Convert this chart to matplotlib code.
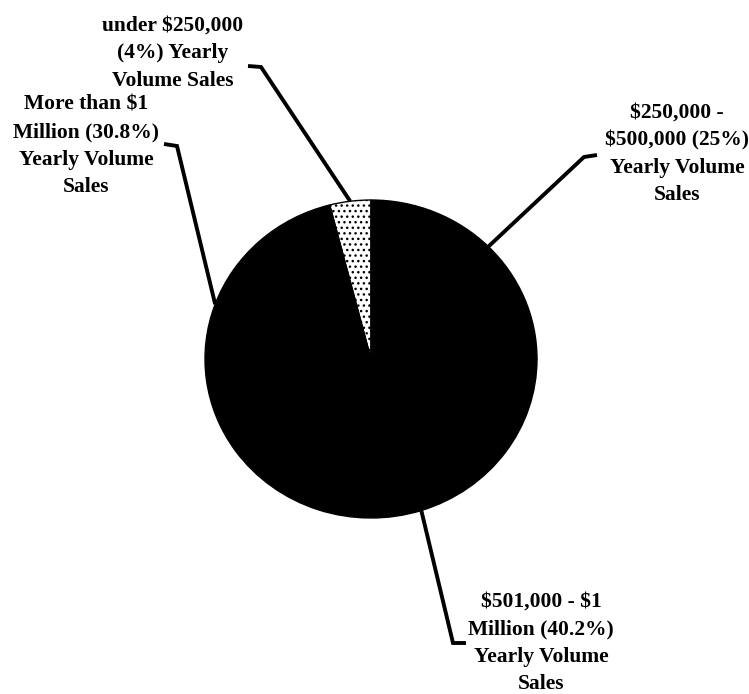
import matplotlib.pyplot as plt
import numpy as np

# yearly volume sales shares (%), in drawing order from 12 o'clock, counter-clockwise
labels = ["under $250,000\n(4%) Yearly\nVolume Sales",
          "More than $1\nMillion (30.8%)\nYearly Volume\nSales",
          "$501,000 - $1\nMillion (40.2%)\nYearly Volume\nSales",
          "$250,000 -\n$500,000 (25%)\nYearly Volume\nSales"]
shares = [4, 30.8, 40.2, 25]
faces = ["white", "black", "black", "black"]

# layout in figure pixels (from top-left)
W, H = 749, 694
cx, cy, rx, ry = 371, 359, 166, 159
text_pos = [(173, 53), (86, 146), (541, 643), (677, 154)]
corner_pos = [(261, 67), (177, 146), (453, 643), (584, 157)]
tick_end = [(248, 66), (164, 144), (466, 643), (597, 155)]


def px(x, y):
    # figure pixel -> data coords where the pie has radius 1
    return (x - cx) / rx, (cy - y) / ry


fig = plt.figure(figsize=(W / 100, H / 100), dpi=100)
ax = fig.add_axes([0, 0, 1, 1])
wedges, _ = ax.pie(shares, startangle=90, counterclock=True, colors=faces,
                   wedgeprops=dict(edgecolor="black", linewidth=1))
wedges[0].set_hatch("...")
ax.set_aspect("auto")
ax.set_xlim(px(0, 0)[0], px(W, 0)[0])
ax.set_ylim(px(0, H)[1], px(0, 0)[1])
ax.axis("off")

for i, w in enumerate(wedges):
    mid = np.deg2rad((w.theta1 + w.theta2) / 2)
    x0, y0 = np.cos(mid), np.sin(mid)
    x1, y1 = px(*corner_pos[i])
    x2, y2 = px(*tick_end[i])
    ax.plot([x0, x1, x2], [y0, y1, y2], color="black", lw=2.8,
            solid_joinstyle="miter", solid_capstyle="butt")
    tx, ty = px(*text_pos[i])
    ax.text(tx, ty, labels[i], ha="center", va="center", multialignment="center",
            fontsize=15.5, fontweight="bold", family="Liberation Serif",
            linespacing=1.5, parse_math=False)

fig.savefig("out.png", dpi=100)
